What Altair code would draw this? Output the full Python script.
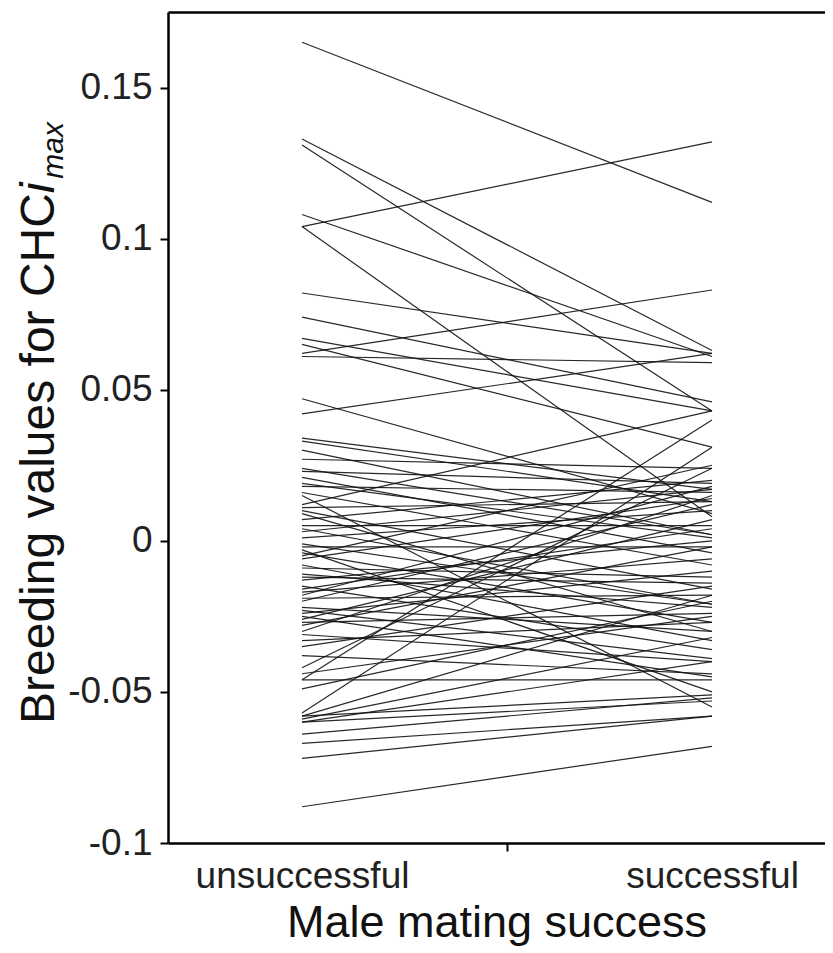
import altair as alt
import pandas as pd

groups = ["unsuccessful", "successful"]
group_pos = [1, 2]

# breeding values at the two levels, one entry per individual line
unsuccessful_vals = [
    0.165, 0.133, 0.131, 0.104, 0.108, 0.104, 0.082, 0.074, 0.067, 0.062,
    0.065, 0.047, 0.042, 0.034, 0.033, 0.027, 0.024, 0.023, 0.021, 0.018,
    0.016, 0.011, 0.010, 0.007, 0.004, 0.001, -0.002, -0.004, -0.006, -0.009,
    -0.011, -0.013, -0.015, -0.017, -0.019, -0.020, -0.022, -0.024, -0.025, -0.027,
    -0.030, -0.031, -0.035, -0.042, -0.046, -0.046, -0.049, -0.057, -0.058, -0.059,
    -0.060, -0.060, -0.064, -0.067, -0.072, -0.088, 0.012, -0.005, 0.009, -0.016,
    0.015, -0.003, 0.005, -0.008, -0.018, -0.028, -0.023, 0.019, -0.012, -0.026,
    -0.033, -0.038, 0.003, -0.001, -0.044, -0.058, 0.061, 0.030,
]
successful_vals = [
    0.112, 0.063, 0.043, 0.132, 0.061, 0.008, 0.062, 0.046, 0.043, 0.083,
    0.031, 0.009, 0.062, 0.017, 0.013, 0.024, 0.002, 0.019, -0.004, 0.016,
    -0.008, 0.013, -0.016, 0.020, -0.021, 0.010, -0.002, -0.027, 0.014, -0.012,
    -0.022, 0.000, -0.036, -0.006, -0.018, 0.012, -0.030, -0.010, -0.045, -0.024,
    0.015, -0.040, -0.015, 0.024, 0.040, -0.046, -0.020, 0.031, -0.018, -0.032,
    -0.053, -0.040, -0.052, -0.058, -0.058, -0.068, 0.043, 0.025, -0.030, 0.004,
    -0.055, -0.050, 0.005, -0.033, 0.018, -0.002, -0.039, 0.001, -0.014, 0.007,
    -0.027, -0.044, 0.017, -0.021, -0.025, -0.051, 0.059, 0.002,
]

y_ticks = [-0.1, -0.05, 0, 0.05, 0.1, 0.15]
title_parts = ["Breeding values for CHC", "i", "max"]
x_title = "Male mating success"

rows = []
for i, (a, b) in enumerate(zip(unsuccessful_vals, successful_vals)):
    rows.append({"id": i, "pos": group_pos[0], "group": groups[0], "value": a})
    rows.append({"id": i, "pos": group_pos[1], "group": groups[1], "value": b})
df = pd.DataFrame(rows)

W = 657
H = 831
FONT = "Liberation Sans"

x0 = 1 - 134 / 410
x1 = x0 + W / 410

xscale = alt.Scale(domain=[x0, x1], nice=False, zero=False)
yscale = alt.Scale(domain=[-0.1, 0.175], nice=False, zero=False)

label_expr = "datum.value == 1 ? 'unsuccessful' : (datum.value == 2 ? 'successful' : '')"

y_axis = alt.Axis(values=y_ticks, labelExpr="'' + datum.value", title=None,
                  grid=False, tickSize=8, tickWidth=2, tickColor="black",
                  domainColor="black", domainWidth=2.5,
                  labelFont=FONT, labelFontSize=37, labelColor="#222",
                  labelPadding=8, labelLimit=0)

lines = alt.Chart(df).mark_line(color="#111111", strokeWidth=1.2, opacity=0.9).encode(
    x=alt.X("pos:Q", scale=xscale,
            axis=alt.Axis(values=[1, 1.5, 2], labelExpr=label_expr, title=x_title,
                          grid=False, tickSize=8, tickWidth=2, tickColor="black",
                          tickOpacity={"condition": {"test": "datum.value == 1.5", "value": 1}, "value": 0},
                          domainColor="black", domainWidth=2.5,
                          labelFont=FONT, labelFontSize=37, labelColor="#222",
                          labelPadding=7, labelFlush=False, labelOverlap=False, labelLimit=0,
                          titleFont=FONT, titleFontSize=45, titleFontWeight="normal",
                          titleColor="#111", titlePadding=6)),
    y=alt.Y("value:Q", scale=yscale, axis=y_axis),
    detail="id:N",
    order="pos:Q",
)

top_frame = alt.Chart(df).mark_line(opacity=0).encode(
    x=alt.X("pos:Q", scale=xscale,
            axis=alt.Axis(orient="top", labels=False, ticks=False, title=None, grid=False,
                          domainColor="black", domainWidth=2.5)),
    y=alt.Y("value:Q", scale=yscale, axis=y_axis),
    detail="id:N",
)

TF = 48
tdf = pd.DataFrame({"t": title_parts})
main_w = 11.059 * TF
base_y = 712
t_main = alt.Chart(tdf.iloc[[0]]).mark_text(
    font=FONT, fontSize=TF, angle=270, align="left", baseline="alphabetic", color="#111"
).encode(text="t:N", x=alt.value(-114), y=alt.value(base_y))
t_i = alt.Chart(tdf.iloc[[1]]).mark_text(
    font=FONT, fontSize=TF, fontStyle="italic", angle=270, align="left",
    baseline="alphabetic", color="#111"
).encode(text="t:N", x=alt.value(-114), y=alt.value(base_y - main_w))
t_max = alt.Chart(tdf.iloc[[2]]).mark_text(
    font=FONT, fontSize=30, fontStyle="italic", angle=270, align="left",
    baseline="alphabetic", color="#111"
).encode(text="t:N", x=alt.value(-105), y=alt.value(base_y - main_w - 0.3 * TF))

chart = alt.layer(lines, top_frame, t_main, t_i, t_max).resolve_axis(x="independent").properties(
    width=W, height=H,
    autosize=alt.AutoSizeParams(type="none"),
    padding={"left": 160, "top": 4, "right": 0, "bottom": 110},
).configure_view(stroke=None).configure(background="white")

chart.save("out.html", embed_options={"renderer": "svg", "actions": False})
